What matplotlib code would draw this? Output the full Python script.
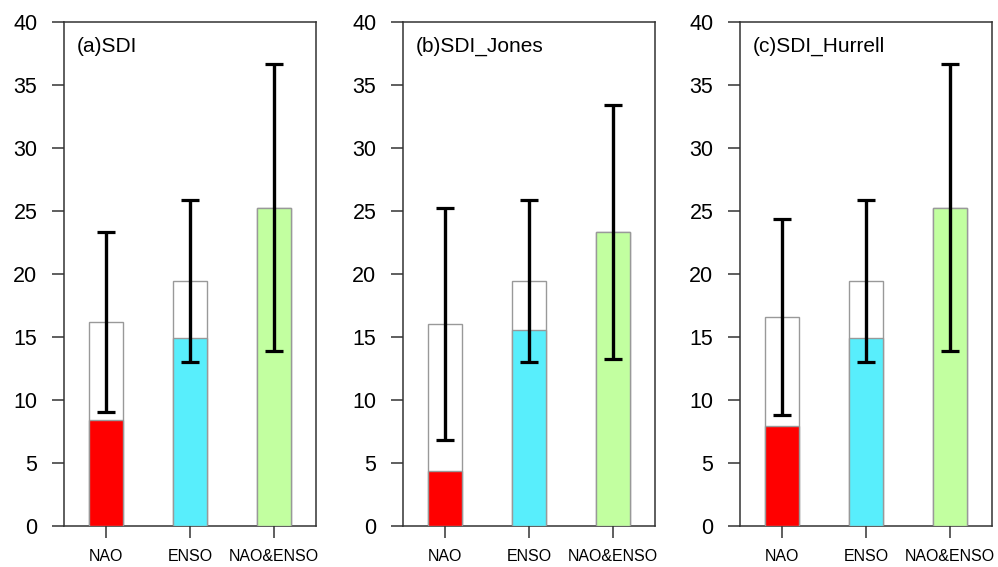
import numpy as np
import matplotlib
matplotlib.use('Agg')
import matplotlib.pyplot as plt

plt.rcParams['font.family'] = ['Liberation Sans', 'DejaVu Sans']

categories = ['NAO', 'ENSO', 'NAO&ENSO']
titles = ['(a)SDI', '(b)SDI_Jones', '(c)SDI_Hurrell']

# total bar height (white outline part), filled part, error bar low / high
total_a = [16.2, 19.4, 25.2]
fill_a = [8.35, 14.9, 25.2]
err_lo_a = [9.05, 13.0, 13.85]
err_hi_a = [23.35, 25.85, 36.65]

total_b = [16.0, 19.4, 23.3]
fill_b = [4.35, 15.5, 23.3]
err_lo_b = [6.8, 13.0, 13.25]
err_hi_b = [25.25, 25.85, 33.4]

total_c = [16.55, 19.4, 25.2]
fill_c = [7.9, 14.9, 25.2]
err_lo_c = [8.8, 13.0, 13.85]
err_hi_c = [24.35, 25.85, 36.65]

panels = [
    (total_a, fill_a, err_lo_a, err_hi_a),
    (total_b, fill_b, err_lo_b, err_hi_b),
    (total_c, fill_c, err_lo_c, err_hi_c),
]

colors = ['#ff0000', '#58eefc', '#c2ffa0']
spine_col = '#333333'

fig = plt.figure(figsize=(9.98, 5.67), dpi=100)
lefts = [64/998, 403/998, 740/998]
bottom = 1 - 525.5/567
height = 503.5/567
width = 252/998

x = np.arange(1, 4)
for i, (total, fill, lo, hi) in enumerate(panels):
    ax = fig.add_axes([lefts[i], bottom, width, height])
    ax.bar(x, total, width=0.4, color='white', edgecolor='#999999', linewidth=1.0, zorder=2)
    ax.bar(x, fill, width=0.4, color=colors, edgecolor='#999999', linewidth=1.0, zorder=3)
    total = np.array(total)
    yerr = [total - np.array(lo), np.array(hi) - total]
    ax.errorbar(x, total, yerr=yerr, fmt='none', ecolor='black', elinewidth=2.4,
                capsize=6.8, capthick=2.3, zorder=4)
    ax.set_xlim(0.5, 3.5)
    ax.set_ylim(0, 40)
    ax.set_yticks(range(0, 41, 5))
    ax.set_xticks(x)
    ax.set_xticklabels(categories, fontsize=11.5)
    ax.tick_params(axis='y', labelsize=15.5, length=8.6, width=1.1, pad=10.5, color=spine_col)
    ax.tick_params(axis='x', length=8.6, width=1.1, pad=8, color=spine_col)
    for s in ax.spines.values():
        s.set_color(spine_col)
        s.set_linewidth(1.1)
    ax.text(0.05, 0.97, titles[i], transform=ax.transAxes, fontsize=15,
            ha='left', va='top')

fig.savefig('out.png', dpi=100)
